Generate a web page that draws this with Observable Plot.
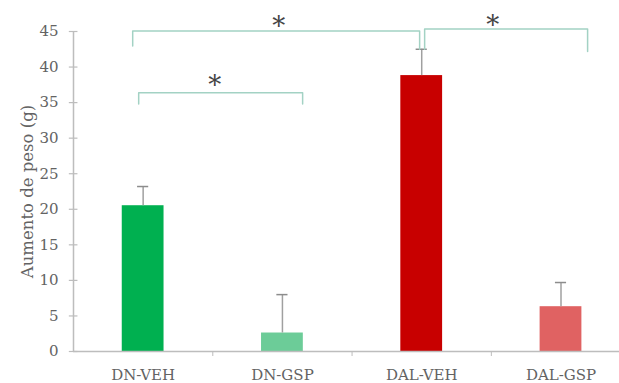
<!DOCTYPE html>
<html>
<head>
<meta charset="utf-8">
<script src="https://cdn.jsdelivr.net/npm/d3@7"></script>
<script src="https://cdn.jsdelivr.net/npm/@observablehq/plot@0.6"></script>
<style>
  html, body { margin: 0; padding: 0; background: #fff; }
</style>
</head>
<body>
<div id="chart"></div>
<script>
// ---- data ----
const groups = ["DN-VEH", "DN-GSP", "DAL-VEH", "DAL-GSP"];
const values = [20.5, 2.6, 38.8, 6.3];
const errorTops = [23.2, 8.0, 42.5, 9.7];
const colors = ["#00b050", "#6ccc98", "#c80000", "#e06262"];
const yTicks = [0, 5, 10, 15, 20, 25, 30, 35, 40, 45];

// significance brackets (x in category index units, y in grams)
const bracketX1 = [-0.075, 2.021, -0.032];
const bracketX2 = [1.985, 3.191, 1.145];
const bracketY = [45.07, 45.35, 36.4];
const bracketDropL = [42.96, 42.5, 34.8];
const bracketDropR = [42.5, 42.2, 34.8];
const starX = [0.973, 2.51, 0.514];
const starY = [46.5, 46.6, 38.2];

// ---- derived tables ----
const bars = groups.map((g, i) => ({i, g, v: values[i], e: errorTops[i], c: colors[i]}));
const bracketPts = [];
bracketX1.forEach((x1, k) => {
  bracketPts.push({k, x: x1, y: bracketDropL[k]});
  bracketPts.push({k, x: x1, y: bracketY[k]});
  bracketPts.push({k, x: bracketX2[k], y: bracketY[k]});
  bracketPts.push({k, x: bracketX2[k], y: bracketDropR[k]});
});
const stars = starX.map((x, k) => ({x, y: starY[k]}));

const halfBar = 0.15;
const halfCap = 0.04;
const axisColor = "#bdbdbd";
const font = "DejaVu Serif";

const chart = Plot.plot({
  width: 619,
  height: 383,
  marginLeft: 73,
  marginRight: 0,
  marginTop: 31,
  marginBottom: 32,
  style: {fontFamily: font, fontSize: "15px", color: "#595959", background: "#fff"},
  x: {domain: [-0.5, 3.42], axis: null},
  y: {domain: [0, 45], axis: null},
  marks: [
    // y axis line and ticks
    Plot.ruleX([-0.5], {y1: 0, y2: 45, stroke: axisColor, strokeWidth: 1.5}),
    Plot.ruleY(yTicks, {y: d => d, x1: -0.53, x2: -0.468, stroke: axisColor, strokeWidth: 1.2}),
    Plot.axisY({ticks: yTicks, tickSize: 0, tickPadding: 15, fontSize: 15, fill: "#636363", label: null}),
    Plot.axisY({ticks: [], tickSize: 0, fontSize: 16.5, fill: "#636363",
      label: "Aumento de peso (g)", labelAnchor: "center", labelArrow: "none", labelOffset: 52}),
    // bars
    Plot.rectY(bars, {x1: d => d.i - halfBar, x2: d => d.i + halfBar, y: "v", fill: "c"}),
    // error bars
    Plot.ruleX(bars, {x: "i", y1: "v", y2: "e", stroke: "#a0a0a0", strokeWidth: 1.5}),
    Plot.ruleY(bars, {y: "e", x1: d => d.i - halfCap, x2: d => d.i + halfCap, stroke: "#8c8c8c", strokeWidth: 1.5}),
    // x axis
    Plot.ruleY([0], {stroke: axisColor, strokeWidth: 1.5}),
    Plot.axisX({ticks: [0.5, 1.5, 2.5], tickSize: 5, tickFormat: () => "", stroke: axisColor}),
    Plot.axisX({ticks: [0, 1, 2, 3], tickSize: 0, tickPadding: 18, tickFormat: i => groups[i],
      fontSize: 15, fill: "#636363", label: null}),
    // significance brackets
    Plot.line(bracketPts, {x: "x", y: "y", z: "k", stroke: "#a3d2c4", strokeWidth: 1.5}),
    Plot.text(stars, {x: "x", y: "y", text: () => "*", fontSize: 26, fill: "#444", dy: 6})
  ]
});
document.getElementById("chart").appendChild(chart);
</script>
</body>
</html>
